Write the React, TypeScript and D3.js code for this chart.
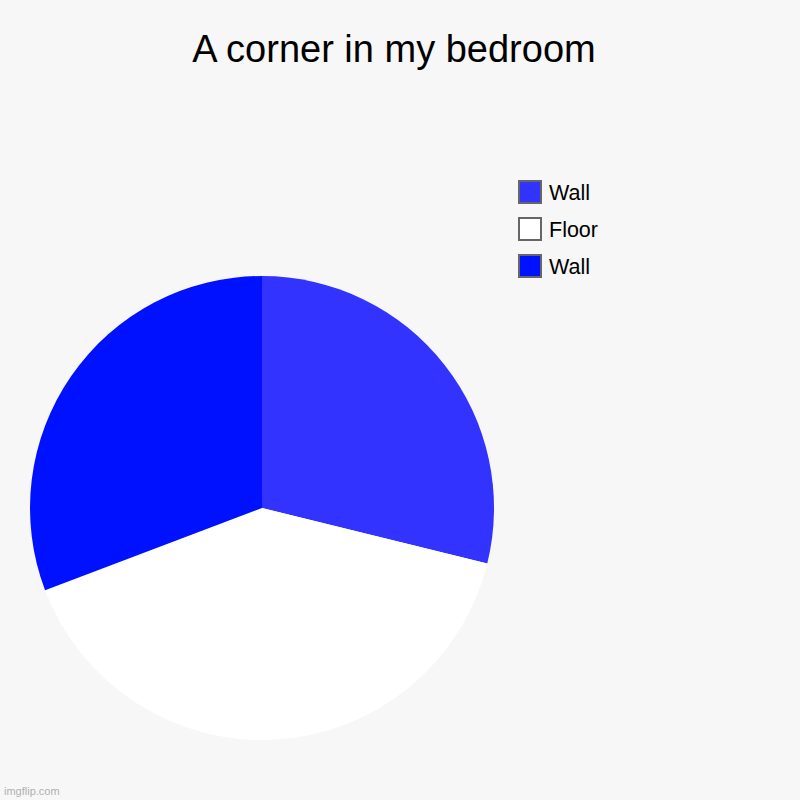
import React, { useEffect, useRef } from 'react';
import * as d3 from 'd3';

const labels = ['Wall', 'Floor', 'Wall'];
const values = [30, 42, 32];
const colors = ['#3333ff', '#ffffff', '#0011ff'];

const App: React.FC = () => {
  const ref = useRef<SVGSVGElement | null>(null);

  useEffect(() => {
    const width = 800;
    const height = 800;
    const svg = d3.select(ref.current);
    svg.selectAll('*').remove();
    svg.attr('width', width).attr('height', height);

    svg.append('rect')
      .attr('width', width)
      .attr('height', height)
      .attr('fill', '#f7f7f7');

    svg.append('text')
      .attr('x', 394)
      .attr('y', 62)
      .attr('text-anchor', 'middle')
      .style('font-family', 'Liberation Sans, Arial, sans-serif')
      .style('font-size', '38px')
      .attr('fill', '#000')
      .text('A corner in my bedroom');

    const radius = 232;
    const pie = d3.pie<number>().sort(null).value(d => d);
    const arc = d3.arc<d3.PieArcDatum<number>>().innerRadius(0).outerRadius(radius);

    const g = svg.append('g').attr('transform', 'translate(262,508)');
    g.selectAll('path')
      .data(pie(values))
      .enter().append('path')
      .attr('d', arc)
      .attr('fill', (_, i) => colors[i]);

    // legend
    const legend = svg.append('g').attr('transform', 'translate(519,181)');
    labels.forEach((label, i) => {
      const item = legend.append('g').attr('transform', `translate(0,${i * 37})`);
      item.append('rect')
        .attr('width', 22)
        .attr('height', 22)
        .attr('fill', colors[i])
        .attr('stroke', '#666')
        .attr('stroke-width', 2);
      item.append('text')
        .attr('x', 30)
        .attr('y', 19)
        .style('font-family', 'Liberation Sans, Arial, sans-serif')
        .style('font-size', '21.5px')
        .attr('fill', '#000')
        .text(label);
    });

    svg.append('text')
      .attr('x', 4)
      .attr('y', 795)
      .style('font-family', 'Liberation Sans, Arial, sans-serif')
      .style('font-size', '11px')
      .attr('fill', '#b0b0b0')
      .text('imgflip.com');
  }, []);

  return <svg ref={ref} style={{ position: 'absolute', left: 0, top: 0 }}></svg>;
};

export default App;
